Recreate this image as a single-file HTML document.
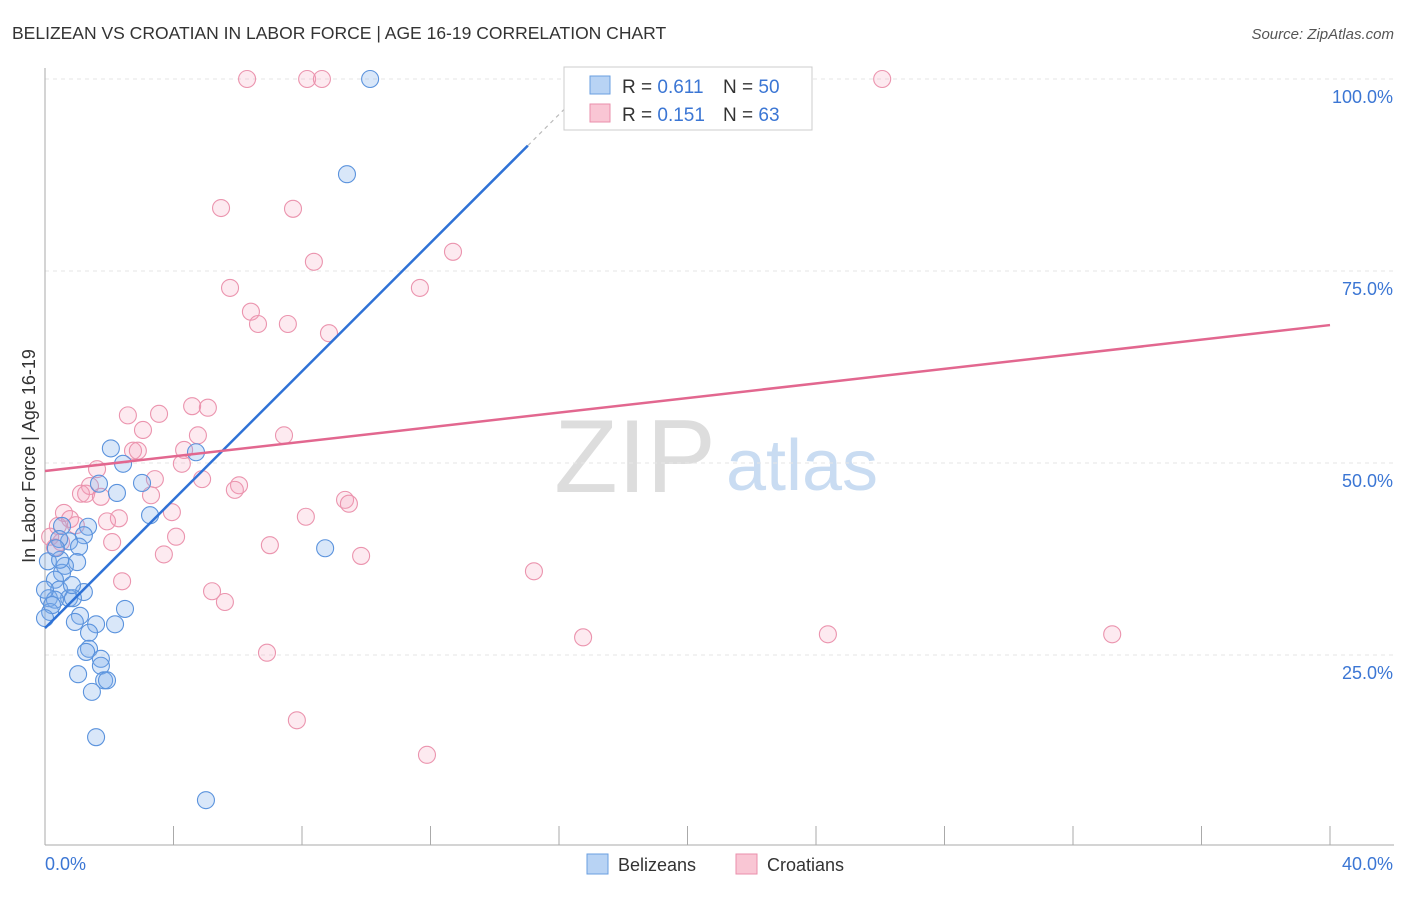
<!DOCTYPE html>
<html><head><meta charset="utf-8"><style>
body{margin:0;background:#fff;font-family:"Liberation Sans",sans-serif}
svg text{font-family:"Liberation Sans",sans-serif}
</style></head><body>
<svg id="c" width="1406" height="892">
<text x="12" y="39" font-size="17.5" fill="#333">BELIZEAN VS CROATIAN IN LABOR FORCE | AGE 16-19 CORRELATION CHART</text>
<text x="1394" y="39" font-size="15" fill="#555" font-style="italic" text-anchor="end">Source: ZipAtlas.com</text>
<g><text x="635" y="492" font-size="104" fill="#ddd" font-family="Liberation Serif" text-anchor="middle">ZIP</text><text x="802" y="490" font-size="72" fill="#c9dcf2" text-anchor="middle">atlas</text></g>
<g id="grid"></g><g id="pts"></g><g id="lines"></g>
<text x="35" y="456" font-size="18" fill="#333" text-anchor="middle" transform="rotate(-90 35 456)">In Labor Force | Age 16-19</text>
<g>
<rect x="564" y="67" width="248" height="63" fill="#fff" stroke="#ccc"/>
<rect x="590" y="76" width="20" height="18" fill="#b8d3f4" stroke="#6a9fe0"/>
<rect x="590" y="104" width="20" height="18" fill="#f9c6d4" stroke="#ea8fab"/>
<text x="622" y="93" font-size="19" fill="#333">R = <tspan fill="#3b76d4">0.611</tspan></text>
<text x="723" y="93" font-size="19" fill="#333">N = <tspan fill="#3b76d4">50</tspan></text>
<text x="622" y="121" font-size="19" fill="#333">R = <tspan fill="#3b76d4">0.151</tspan></text>
<text x="723" y="121" font-size="19" fill="#333">N = <tspan fill="#3b76d4">63</tspan></text>
</g>
<g>
<rect x="587" y="854" width="21" height="20" fill="#b8d3f4" stroke="#6a9fe0"/><text x="618" y="871" font-size="18" fill="#333">Belizeans</text>
<rect x="736" y="854" width="21" height="20" fill="#f9c6d4" stroke="#ea8fab"/><text x="767" y="871" font-size="18" fill="#333">Croatians</text>
</g>
</svg>
<script>
const blueX=[10.12,9.40,2.05,2.43,4.70,3.02,1.68,2.24,3.27,1.34,0.53,1.21,0.75,0.44,1.06,8.72,0.09,1.00,0.62,0.53,0.31,0.44,1.21,0.12,0.75,0.31,0.87,2.49,1.09,0.16,0.93,2.18,1.59,1.37,1.37,1.28,1.74,1.74,1.03,1.84,1.93,1.46,1.59,5.01,0.0,0.22,0.47,0.84,0.34,0.0];
const blueY=[100,87.6,51.9,49.9,51.4,47.4,47.3,46.1,43.2,41.7,41.8,40.6,39.8,40.1,39.1,38.9,37.2,37.1,36.6,35.7,34.8,33.5,33.2,32.4,32.4,32.2,32.4,31.0,30.1,30.6,29.3,29.0,29.0,27.9,25.8,25.4,24.5,23.6,22.5,21.7,21.7,20.2,14.3,6.1,33.5,31.5,37.4,34.1,38.9,29.8];
const pinkX=[6.29,8.16,8.62,26.06,5.48,7.72,12.70,8.37,5.76,11.67,6.41,6.63,7.56,8.84,2.58,3.55,4.58,5.07,3.05,4.76,7.44,4.33,2.74,2.89,4.26,1.62,3.42,4.89,1.40,6.04,5.91,1.12,1.28,3.30,1.74,9.34,9.46,0.59,3.95,8.12,2.30,0.78,1.93,0.40,0.96,4.08,0.16,2.09,0.50,7.00,3.70,9.84,0.31,15.22,2.40,5.20,5.60,16.75,24.37,33.22,6.91,7.84,11.89];
const pinkY=[100,100,100,100,83.2,83.1,77.5,76.2,72.8,72.8,69.7,68.1,68.1,66.9,56.2,56.4,57.4,57.2,54.3,53.6,53.6,51.7,51.6,51.6,49.9,49.2,47.9,47.9,47.0,47.1,46.5,46.0,46.0,45.8,45.6,45.2,44.7,43.5,43.6,43.0,42.8,42.7,42.4,41.8,41.9,40.4,40.4,39.7,39.7,39.3,38.1,37.9,39.0,35.9,34.6,33.3,31.9,27.3,27.7,27.7,25.3,16.5,12.0];
const yTicks=[25,50,75,100];
const yTickLabels=["25.0%","50.0%","75.0%","100.0%"];
const xTicks=[0,4,8,12,16,20,24,28,32,36,40];
const blueTrend=[28.5,4.18];
const pinkTrend=[48.96,0.475];
const X=v=>45+v/40*1285, Y=v=>847-v/100*768;
const NS="http://www.w3.org/2000/svg";
function mk(t,a,p){const e=document.createElementNS(NS,t);for(const k in a)e.setAttribute(k,a[k]);p.appendChild(e);return e;}
const g=document.getElementById('grid');
yTicks.forEach((t,i)=>{const l=mk('line',{x1:45,x2:1394,y1:Y(t),y2:Y(t),stroke:'#e6e6e6','stroke-dasharray':'4,4'},g);


const tx=mk('text',{x:1393,y:Y(t)+24,'font-size':18,fill:'#3b76d4','text-anchor':'end'},g);tx.textContent=yTickLabels[i];

});
const ax=mk('line',{x1:45,x2:45,y1:68,y2:845,stroke:'#aaa'},g);


const bx=mk('line',{x1:45,x2:1394,y1:845,y2:845,stroke:'#aaa'},g);


xTicks.forEach(t=>{const l=mk('line',{x1:X(t),x2:X(t),y1:826,y2:845,stroke:'#aaa'},g);

});
const x0=mk('text',{x:45,y:870,'font-size':18,fill:'#3b76d4'},g);x0.textContent="0.0%";


const x1=mk('text',{x:1393,y:870,'font-size':18,fill:'#3b76d4','text-anchor':'end'},g);x1.textContent="40.0%";


const P=document.getElementById('pts');
pinkX.forEach((v,i)=>{const c=mk('circle',{cx:X(v),cy:Y(pinkY[i]),r:8.5,fill:'rgba(244,160,185,0.22)',stroke:'#eb94ae','stroke-width':1.1},P);

});
blueX.forEach((v,i)=>{const c=mk('circle',{cx:X(v),cy:Y(blueY[i]),r:8.5,fill:'rgba(130,175,235,0.3)',stroke:'#5b93dd','stroke-width':1.1},P);

});
const L=document.getElementById('lines');
const bl=mk('line',{x1:X(0),y1:Y(blueTrend[0]),x2:X(15.03),y2:Y(blueTrend[0]+blueTrend[1]*15.03),stroke:'#2f72d6','stroke-width':2.5},L);


const bd=mk('line',{x1:X(15.03),y1:Y(blueTrend[0]+blueTrend[1]*15.03),x2:X(17.1),y2:Y(blueTrend[0]+blueTrend[1]*17.1),stroke:'#bbb','stroke-width':1.2,'stroke-dasharray':'4,4'},L);


const pl=mk('line',{x1:X(0),y1:Y(pinkTrend[0]),x2:X(40),y2:Y(pinkTrend[0]+pinkTrend[1]*40),stroke:'#e2678f','stroke-width':2.5},L);


</script>
</body></html>
